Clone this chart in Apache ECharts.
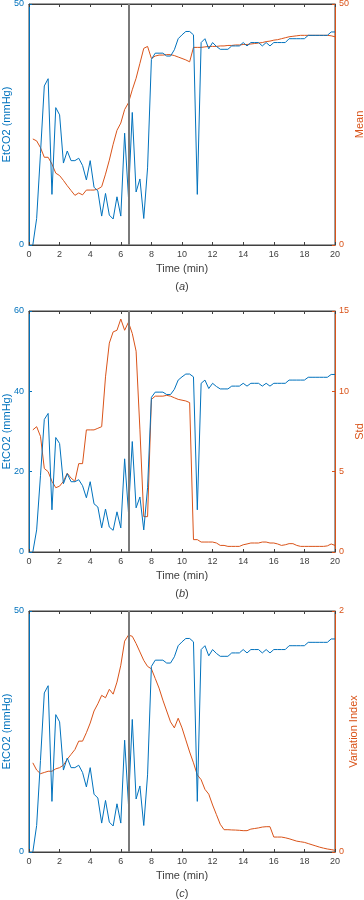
<!DOCTYPE html>
<html>
<head>
<meta charset="utf-8">
<script src="https://cdn.jsdelivr.net/npm/echarts@6/dist/echarts.min.js"></script>
<style>
html, body { margin: 0; padding: 0; background: #fff; }
#chart { width: 364px; height: 900px; }
</style>
</head>
<body>
<div id="chart"></div>
<script>
var times = [0.25, 0.5, 0.75, 1, 1.25, 1.5, 1.75, 2, 2.25, 2.5, 2.75, 3, 3.25, 3.5, 3.75, 4,
    4.25, 4.5, 4.75, 5, 5.25, 5.5, 5.75, 6, 6.25, 6.5, 6.75, 7, 7.25, 7.5, 7.75, 8,
    8.25, 8.5, 8.75, 9, 9.25, 9.5, 9.75, 10, 10.25, 10.5, 10.75, 11, 11.25, 11.5, 11.75, 12,
    12.25, 12.5, 12.75, 13, 13.25, 13.5, 13.75, 14, 14.25, 14.5, 14.75, 15, 15.25, 15.5, 15.75, 16,
    16.25, 16.5, 16.75, 17, 17.25, 17.5, 17.75, 18, 18.25, 18.5, 18.75, 19, 19.25, 19.5, 19.75, 20];

// EtCO2 (mmHg), same trace in all three panels
var etco2 = [0, 5.5, 19, 33, 34.5, 10.5, 28.5, 27, 17, 19.5, 17.5, 17.5, 18, 16.5, 13.5, 17.5,
    12, 11.2, 6, 10.7, 6.2, 5.4, 10, 6, 23.2, 10, 27.5, 11, 13.7, 5.5, 16, 38.5,
    39.8, 39.8, 39.8, 39.2, 39.2, 40.5, 42.8, 43.6, 44.3, 44.3, 43.6, 10.5, 42, 42.8, 40.7, 42,
    41.2, 40.6, 40.6, 40.6, 41.3, 41.3, 41.3, 42, 41.3, 42, 42, 42, 41.3, 42, 41.3, 42,
    42, 42, 42, 42.8, 42.8, 42.8, 42.8, 42.8, 43.5, 43.5, 43.5, 43.5, 43.5, 43.5, 44.2, 44.2];

// (a) running mean
var meanVals = [22, 21.6, 20.2, 18.2, 18.2, 16.8, 14.9, 14.4, 13.4, 12.3, 11.3, 10.3, 10.8, 10.4, 11.4, 11.4,
    11.4, 11.6, 12.1, 14.7, 17.6, 20.9, 23.8, 25.3, 28.1, 29.5, 32.2, 34.6, 37.7, 40.8, 41.2, 38.7,
    39.2, 39.4, 39.4, 39.5, 39.5, 39.3, 39, 38.7, 38.4, 38, 41, 41, 41, 41.1, 41.2, 41.2,
    41.2, 41.3, 41.3, 41.4, 41.4, 41.5, 41.5, 41.6, 41.6, 41.7, 41.8, 41.9, 42, 42.2, 42.3, 42.5,
    42.6, 42.8, 43, 43.2, 43.3, 43.4, 43.5, 43.5, 43.5, 43.5, 43.5, 43.5, 43.5, 43.5, 43.4, 43.2];

// (b) running standard deviation
var stdVals = [7.6, 7.8, 7.2, 5.2, 5, 4.4, 4, 4.1, 4.4, 4.9, 4.6, 4.4, 5.5, 5.5, 7.6, 7.6,
    7.6, 7.7, 7.8, 10.9, 13, 13.7, 13.8, 14.5, 13.8, 14.3, 13.6, 12.5, 7.6, 2.2, 2.2, 9.5,
    9.7, 9.7, 9.7, 9.75, 9.7, 9.6, 9.5, 9.45, 9.4, 9.3, 0.77, 0.77, 0.62, 0.62, 0.62, 0.62,
    0.56, 0.41, 0.41, 0.35, 0.35, 0.35, 0.35, 0.45, 0.5, 0.56, 0.56, 0.56, 0.62, 0.62, 0.56, 0.56,
    0.5, 0.41, 0.45, 0.52, 0.52, 0.41, 0.35, 0.35, 0.35, 0.35, 0.35, 0.35, 0.35, 0.38, 0.5, 0.41];

// (c) variation index
var viVals = [0.74, 0.68, 0.65, 0.66, 0.67, 0.67, 0.69, 0.7, 0.72, 0.77, 0.81, 0.85, 0.92, 0.92, 0.99, 1.07,
    1.17, 1.23, 1.3, 1.28, 1.35, 1.31, 1.41, 1.55, 1.75, 1.8, 1.79, 1.73, 1.66, 1.59, 1.54, 1.52,
    1.44, 1.36, 1.26, 1.17, 1.08, 1.03, 1.11, 1.03, 0.93, 0.83, 0.74, 0.64, 0.6, 0.52, 0.48, 0.39,
    0.31, 0.23, 0.185, 0.185, 0.183, 0.182, 0.18, 0.177, 0.177, 0.19, 0.195, 0.2, 0.207, 0.21, 0.21, 0.124,
    0.124, 0.124, 0.118, 0.11, 0.1, 0.09, 0.085, 0.08, 0.07, 0.06, 0.05, 0.04, 0.032, 0.025, 0.02, 0.014];

var eventTime = 6.5;
var panelLabels = ['a', 'b', 'c'];
var rightNames = ['Mean', 'Std', 'Variation Index'];
var leftMax = [50, 60, 50];
var leftStep = [50, 20, 50];
var rightMax = [50, 15, 2];
var rightStep = [50, 5, 2];
var rightData = [meanVals, stdVals, viVals];

var blue = '#0072BD';
var orange = '#D95319';
var axisGray = '#404040';
var font = 'Liberation Sans, Arial, sans-serif';

function pairs(vals) {
    return times.map(function (t, i) { return [t, vals[i]]; });
}

var chart = echarts.init(document.getElementById('chart'), null, { renderer: 'canvas' });

var grids = [], xAxes = [], yAxes = [], series = [], texts = [];
var tops = [4, 311, 611];
var heights = [241, 241, 241];
var rightGaps = [19, 19, 13];

for (var p = 0; p < 3; p++) {
    grids.push({
        left: 29, right: 29, top: tops[p], height: heights[p],
        outerBoundsMode: 'none', containLabel: false,
        show: true, borderColor: axisGray, borderWidth: 1, backgroundColor: 'transparent'
    });
    // bottom time axis
    xAxes.push({
        gridIndex: p, type: 'value', min: 0, max: 20, interval: 2, position: 'bottom',
        name: 'Time (min)', nameLocation: 'middle', nameGap: 18, nameMoveOverlap: false,
        nameTextStyle: { fontSize: 11, color: axisGray, fontFamily: font },
        axisLine: { show: true, onZero: false, lineStyle: { color: axisGray, width: 1 } },
        axisTick: { inside: true, length: 3, lineStyle: { color: axisGray } },
        axisLabel: { fontSize: 9, color: axisGray, margin: 5, fontFamily: font },
        splitLine: { show: false }
    });
    // top border with ticks
    xAxes.push({
        gridIndex: p, type: 'value', min: 0, max: 20, interval: 2, position: 'top',
        axisLine: { show: true, onZero: false, lineStyle: { color: axisGray, width: 1 } },
        axisTick: { inside: true, length: 3, lineStyle: { color: axisGray } },
        axisLabel: { show: false },
        splitLine: { show: false }
    });
    yAxes.push({
        gridIndex: p, type: 'value', min: 0, max: leftMax[p], interval: leftStep[p], position: 'left',
        name: 'EtCO2 (mmHg)', nameLocation: 'middle', nameGap: 17, nameRotate: 90, nameMoveOverlap: false,
        nameTextStyle: { fontSize: 11, color: blue, fontFamily: font },
        axisLine: { show: true, onZero: false, lineStyle: { color: blue, width: 1 } },
        axisTick: { show: true, inside: true, length: 3, lineStyle: { color: blue } },
        axisLabel: { fontSize: 9, color: blue, margin: 5, fontFamily: font },
        splitLine: { show: false }
    });
    yAxes.push({
        gridIndex: p, type: 'value', min: 0, max: rightMax[p], interval: rightStep[p], position: 'right',
        name: rightNames[p], nameLocation: 'middle', nameGap: rightGaps[p], nameRotate: 90, nameMoveOverlap: false,
        nameTextStyle: { fontSize: 11, color: orange, fontFamily: font },
        axisLine: { show: true, onZero: false, lineStyle: { color: orange, width: 1 } },
        axisTick: { show: true, inside: true, length: 3, lineStyle: { color: orange } },
        axisLabel: { fontSize: 9, color: orange, margin: 4, fontFamily: font },
        splitLine: { show: false }
    });
    series.push({
        type: 'line', xAxisIndex: p * 2, yAxisIndex: p * 2, data: pairs(etco2),
        showSymbol: false, lineStyle: { color: blue, width: 1 }, itemStyle: { color: blue },
        z: 3,
        markLine: {
            silent: true, symbol: 'none', label: { show: false },
            lineStyle: { color: '#7a7a7a', width: 2, type: 'solid' },
            data: [{ xAxis: eventTime }]
        }
    });
    series.push({
        type: 'line', xAxisIndex: p * 2, yAxisIndex: p * 2 + 1, data: pairs(rightData[p]),
        showSymbol: false, lineStyle: { color: orange, width: 1 }, itemStyle: { color: orange },
        z: 2
    });
    texts.push({
        type: 'text', left: 'center', top: tops[p] + heights[p] + 36,
        style: {
            rich: {
                n: { fontSize: 11, fill: axisGray, fontFamily: font },
                i: { fontSize: 11, fill: axisGray, fontFamily: font, fontStyle: 'italic' }
            },
            text: '{n|(}{i|' + panelLabels[p] + '}{n|)}'
        }
    });
}

chart.setOption({
    animation: false,
    grid: grids,
    xAxis: xAxes,
    yAxis: yAxes,
    series: series,
    graphic: texts
});
</script>
</body>
</html>
